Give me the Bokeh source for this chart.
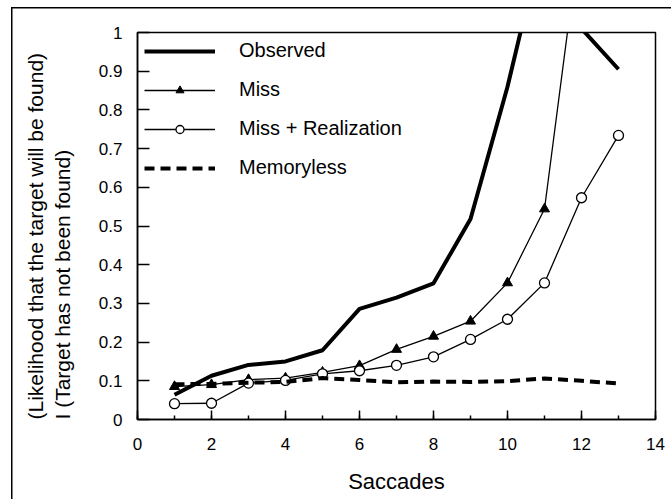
from bokeh.plotting import figure
from bokeh.models import (Range1d, SingleIntervalTicker, FixedTicker, CustomJSTickFormatter,
                          Title, Legend)
from bokeh.embed import file_html
from bokeh.resources import INLINE

# ---- data ----
saccades = [1, 2, 3, 4, 5, 6, 7, 8, 9, 10, 11, 12, 13]
observed = [0.064, 0.113, 0.141, 0.150, 0.179, 0.286, 0.315, 0.352, 0.518, 0.86, 1.26, 1.01, 0.905]
miss_x = [1, 2, 3, 4, 5, 6, 7, 8, 9, 10, 11, 12]
miss = [0.085, 0.090, 0.103, 0.107, 0.122, 0.139, 0.181, 0.215, 0.254, 0.353, 0.544, 1.28]
miss_real = [0.041, 0.042, 0.094, 0.101, 0.118, 0.126, 0.140, 0.162, 0.207, 0.259, 0.353, 0.573, 0.734]
memoryless = [0.091, 0.092, 0.095, 0.097, 0.107, 0.102, 0.096, 0.098, 0.097, 0.099, 0.106, 0.100, 0.093]
y_ticks = [0, 0.1, 0.2, 0.3, 0.4, 0.5, 0.6, 0.7, 0.8, 0.9, 1]
x_label = "Saccades"
y_label_1 = "(Likelihood that the target will be found)"
y_label_2 = "I (Target has not been found)"

FONT = "Liberation Sans"

p = figure(frame_width=518, frame_height=387, output_backend="svg", toolbar_location=None,
           x_range=Range1d(0, 14), y_range=Range1d(0, 1))
p.min_border_left = 126
p.min_border_top = 25
p.min_border_right = 16
p.min_border_bottom = 80
# outer box (left and top edges) drawn as a CSS background behind a transparent border area
p.styles = {
    "margin-left": "0px",
    "margin-top": "7px",
    "background-color": "white",
    "background-image": "linear-gradient(black, black), linear-gradient(black, black)",
    "background-repeat": "no-repeat",
    "background-size": "1.5px 100%, 100% 1.5px",
    "background-position": "11px 0px, 11px 0px",
}

p.grid.visible = False
p.outline_line_color = "black"
p.outline_line_width = 1.5
p.background_fill_color = "white"
p.border_fill_alpha = 0

# x axis
xa = p.xaxis[0]
xa.ticker = SingleIntervalTicker(interval=2, num_minor_ticks=2)
xa.major_tick_in = 9
xa.major_tick_out = 0
xa.minor_tick_in = 4
xa.minor_tick_out = 0
xa.major_label_standoff = 18
xa.major_label_text_font = FONT
xa.major_label_text_font_size = "17px"
xa.major_label_text_color = "black"
xa.axis_label = x_label
xa.axis_label_text_font = FONT
xa.axis_label_text_font_size = "22px"
xa.axis_label_text_font_style = "normal"
xa.axis_label_text_color = "black"
xa.axis_label_standoff = 16
xa.axis_line_color = "black"
xa.axis_line_width = 1.5
xa.major_tick_line_width = 1.5
xa.minor_tick_line_width = 1.5

# y axis
ya = p.yaxis[0]
ya.ticker = FixedTicker(ticks=y_ticks)
ya.formatter = CustomJSTickFormatter(code="return String(Math.round(tick*10)/10);")
ya.major_tick_in = 12
ya.major_tick_out = 0
ya.minor_tick_line_color = None
ya.major_label_standoff = 15
ya.major_label_text_font = FONT
ya.major_label_text_font_size = "17px"
ya.major_label_text_color = "black"
ya.axis_line_color = "black"
ya.axis_line_width = 1.5
ya.major_tick_line_width = 1.5

# series
r_obs = p.line(saccades, observed, line_color="black", line_width=4)
r_miss_l = p.line(miss_x, miss, line_color="black", line_width=1.3)
r_miss_m = p.scatter(miss_x, miss, marker="triangle", size=10, fill_color="black", line_color="black")
r_mr_l = p.line(saccades, miss_real, line_color="black", line_width=1.3)
r_mr_m = p.scatter(saccades, miss_real, marker="circle", size=10, fill_color="white",
                   line_color="black", line_width=1.3)
r_mem = p.line(saccades, memoryless, line_color="black", line_width=4, line_dash="10 6")

legend = Legend(items=[
    ("Observed", [r_obs]),
    ("Miss", [r_miss_l, r_miss_m]),
    ("Miss + Realization", [r_mr_l, r_mr_m]),
    ("Memoryless", [r_mem]),
], location="top_left")
legend.border_line_color = None
legend.background_fill_alpha = 0
legend.margin = 7
legend.padding = 0
legend.glyph_width = 71
legend.glyph_height = 20
legend.label_height = 20
legend.spacing = 16
legend.label_standoff = 24
legend.label_text_font = FONT
legend.label_text_font_size = "20px"
legend.label_text_color = "black"
legend.label_text_baseline = "middle"
p.add_layout(legend, "center")

# two-line rotated y label as one left-side title
ytitle = Title(text=y_label_1 + "\n" + y_label_2, align="left", text_font=FONT,
               text_font_size="21px", text_font_style="normal", text_color="black",
               text_line_height=1.2, standoff=42)
p.add_layout(ytitle, "left")

open("out.html", "w").write(file_html(p, INLINE))
